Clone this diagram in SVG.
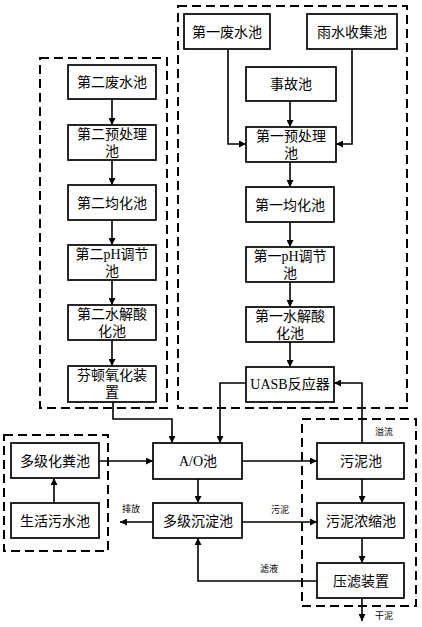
<svg xmlns="http://www.w3.org/2000/svg" width="422" height="627" viewBox="0 0 422 627">
<style>
.b{fill:#fff;stroke:#000;stroke-width:1.7}
.d{fill:none;stroke:#000;stroke-width:2}
.d{stroke-dasharray:9,5}
.c{fill:none;stroke:#000;stroke-width:1.6}
text{font-family:"Liberation Serif","Noto Sans CJK SC",serif;font-size:14px;fill:#000;text-anchor:middle}
.s{font-size:9px}
</style>
<defs>
<marker id="a" viewBox="0 0 8 8" refX="8" refY="4" markerWidth="7" markerHeight="7" markerUnits="userSpaceOnUse" orient="auto"><path d="M0,0L8,4L0,8z" fill="#000"/></marker>
</defs>
<g id="zones">
<rect class="d" x="40" y="58" width="127" height="350"/>
<rect class="d" x="178" y="6" width="229" height="402"/>
<rect class="d" x="4" y="435" width="104" height="116"/>
<rect class="d" x="302" y="419" width="114" height="187"/>
</g>
<g id="connectors">
<path class="c" marker-end="url(#a)" d="M112,99V125"/>
<path class="c" marker-end="url(#a)" d="M112,160V185"/>
<path class="c" marker-end="url(#a)" d="M112,220V245"/>
<path class="c" marker-end="url(#a)" d="M112,280V305"/>
<path class="c" marker-end="url(#a)" d="M112,340V366"/>
<path class="c" marker-end="url(#a)" d="M113,402V419H172V443"/>
<path class="c" marker-end="url(#a)" d="M228,49V144H246"/>
<path class="c" marker-end="url(#a)" d="M352,49V144H336"/>
<path class="c" marker-end="url(#a)" d="M290,101V127"/>
<path class="c" marker-end="url(#a)" d="M290,162V187"/>
<path class="c" marker-end="url(#a)" d="M290,222V247"/>
<path class="c" marker-end="url(#a)" d="M290,282V307"/>
<path class="c" marker-end="url(#a)" d="M290,342V367"/>
<path class="c" marker-end="url(#a)" d="M246,383H220V443"/>
<path class="c" marker-end="url(#a)" d="M362,443V383H334"/>
<path class="c" marker-end="url(#a)" d="M54,503V478"/>
<path class="c" marker-end="url(#a)" d="M99,461H153"/>
<path class="c" marker-end="url(#a)" d="M242,461H317"/>
<path class="c" marker-end="url(#a)" d="M198,479V503"/>
<path class="c" marker-end="url(#a)" d="M153,522H120"/>
<path class="c" marker-end="url(#a)" d="M242,522H317"/>
<path class="c" marker-end="url(#a)" d="M362,479V503"/>
<path class="c" marker-end="url(#a)" d="M362,538V563"/>
<path class="c" marker-end="url(#a)" d="M317,581H198V538"/>
<path class="c" marker-end="url(#a)" d="M362,598V621"/>
<text class="s" x="131" y="512">排放</text>
<text class="s" x="280" y="513">污泥</text>
<text class="s" x="269" y="572">滤液</text>
<text class="s" x="384" y="435">溢流</text>
<text class="s" x="384" y="619">干泥</text>
</g>
<g id="n1"><rect class="b" x="68" y="65" width="88" height="34"/><text x="112" y="87">第二废水池</text></g>
<g id="n2"><rect class="b" x="68" y="125" width="88" height="35"/><text x="112" y="139">第二预处理</text><text x="112" y="156">池</text></g>
<g id="n3"><rect class="b" x="68" y="185" width="88" height="35"/><text x="112" y="208">第二均化池</text></g>
<g id="n4"><rect class="b" x="68" y="245" width="88" height="35"/><text x="112" y="259">第二pH调节</text><text x="112" y="276">池</text></g>
<g id="n5"><rect class="b" x="68" y="305" width="88" height="35"/><text x="112" y="319">第二水解酸</text><text x="112" y="336">化池</text></g>
<g id="n6"><rect class="b" x="68" y="366" width="88" height="36"/><text x="112" y="380">芬顿氧化装</text><text x="112" y="397">置</text></g>
<g id="n7"><rect class="b" x="184" y="14" width="86" height="35"/><text x="227" y="37">第一废水池</text></g>
<g id="n8"><rect class="b" x="307" y="14" width="90" height="35"/><text x="352" y="37">雨水收集池</text></g>
<g id="n9"><rect class="b" x="246" y="67" width="90" height="34"/><text x="291" y="89">事故池</text></g>
<g id="n10"><rect class="b" x="246" y="127" width="90" height="35"/><text x="291" y="141">第一预处理</text><text x="291" y="158">池</text></g>
<g id="n11"><rect class="b" x="246" y="187" width="88" height="35"/><text x="290" y="210">第一均化池</text></g>
<g id="n12"><rect class="b" x="246" y="247" width="88" height="35"/><text x="290" y="261">第一pH调节</text><text x="290" y="278">池</text></g>
<g id="n13"><rect class="b" x="246" y="307" width="88" height="35"/><text x="290" y="321">第一水解酸</text><text x="290" y="338">化池</text></g>
<g id="n14"><rect class="b" x="246" y="367" width="88" height="35"/><text x="290" y="389">UASB反应器</text></g>
<g id="n15"><rect class="b" x="11" y="443" width="88" height="35"/><text x="55" y="466">多级化粪池</text></g>
<g id="n16"><rect class="b" x="11" y="503" width="88" height="35"/><text x="55" y="526">生活污水池</text></g>
<g id="n17"><rect class="b" x="153" y="443" width="89" height="36"/><text x="198" y="466">A/O池</text></g>
<g id="n18"><rect class="b" x="153" y="503" width="89" height="35"/><text x="198" y="526">多级沉淀池</text></g>
<g id="n19"><rect class="b" x="317" y="443" width="87" height="36"/><text x="361" y="466">污泥池</text></g>
<g id="n20"><rect class="b" x="317" y="503" width="87" height="35"/><text x="361" y="526">污泥浓缩池</text></g>
<g id="n21"><rect class="b" x="317" y="563" width="87" height="35"/><text x="361" y="586">压滤装置</text></g>
</svg>
